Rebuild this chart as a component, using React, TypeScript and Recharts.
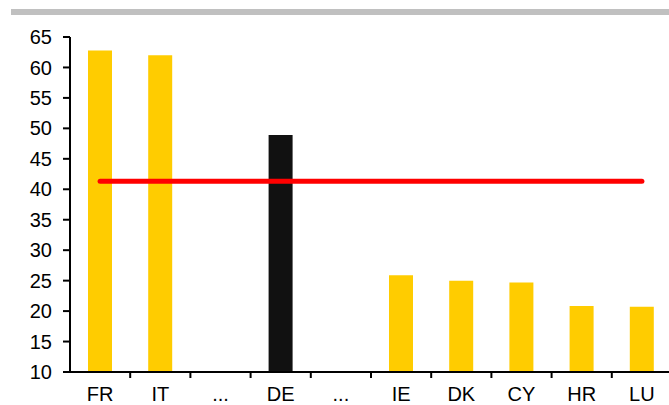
import { ComposedChart, Bar, Line, Cell, XAxis, YAxis } from 'recharts';

const categories = ['FR', 'IT', '...', 'DE', '...', 'IE', 'DK', 'CY', 'HR', 'LU'];
const values: (number | null)[] = [62.8, 62.0, null, 48.9, null, 25.9, 25.0, 24.7, 20.85, 20.7];
const average = 41.3;
const highlight = 'DE';
const yTicks = [10, 15, 20, 25, 30, 35, 40, 45, 50, 55, 60, 65];

const data = categories.map((name, i) => ({ name, value: values[i], avg: average }));

const CHART_W = 672;
const AXIS_W = 70;
const FONT = '"Liberation Sans", Arial, sans-serif';
const band = (CHART_W - AXIS_W) / categories.length;

function CategoryTick(props: any) {
  const { x, y, payload } = props;
  return (
    <g>
      <line x1={x + band / 2} x2={x + band / 2} y1={y} y2={y + 6} stroke="#000" strokeWidth={2} />
      <text x={x} y={y + 29} textAnchor="middle" fill="#000" fontSize={20} fontFamily={FONT}>
        {payload.value}
      </text>
    </g>
  );
}

export default function App() {
  return (
    <div style={{ position: 'absolute', left: 0, top: 0, width: 669, height: 405, overflow: 'hidden', background: '#fff' }}>
      <div style={{ position: 'absolute', left: 11, top: 9, width: 658, height: 6, background: '#C0C0C0' }} />
      <ComposedChart
        width={CHART_W}
        height={405}
        data={data}
        margin={{ top: 37, right: 0, bottom: 0, left: 0 }}
        style={{ position: 'absolute', left: 0, top: 0 }}
      >
        <XAxis
          dataKey="name"
          interval={0}
          tickLine={false}
          tickSize={0}
          tickMargin={0}
          axisLine={{ stroke: '#000', strokeWidth: 2 }}
          tick={<CategoryTick />}
          height={33}
        />
        <YAxis
          domain={[10, 65]}
          ticks={yTicks}
          interval={0}
          width={AXIS_W}
          tickSize={7}
          tickMargin={11}
          axisLine={{ stroke: '#000', strokeWidth: 2 }}
          tickLine={{ stroke: '#000', strokeWidth: 2 }}
          tick={{ fill: '#000', fontSize: 20, fontFamily: FONT }}
        />
        <Bar dataKey="value" barSize={24} isAnimationActive={false}>
          {data.map((d, i) => (
            <Cell key={i} fill={d.name === highlight ? '#111111' : '#FFCC00'} />
          ))}
        </Bar>
        <Line
          dataKey="avg"
          stroke="#FF0000"
          strokeWidth={5}
          strokeLinecap="round"
          dot={false}
          activeDot={false}
          isAnimationActive={false}
        />
      </ComposedChart>
    </div>
  );
}
